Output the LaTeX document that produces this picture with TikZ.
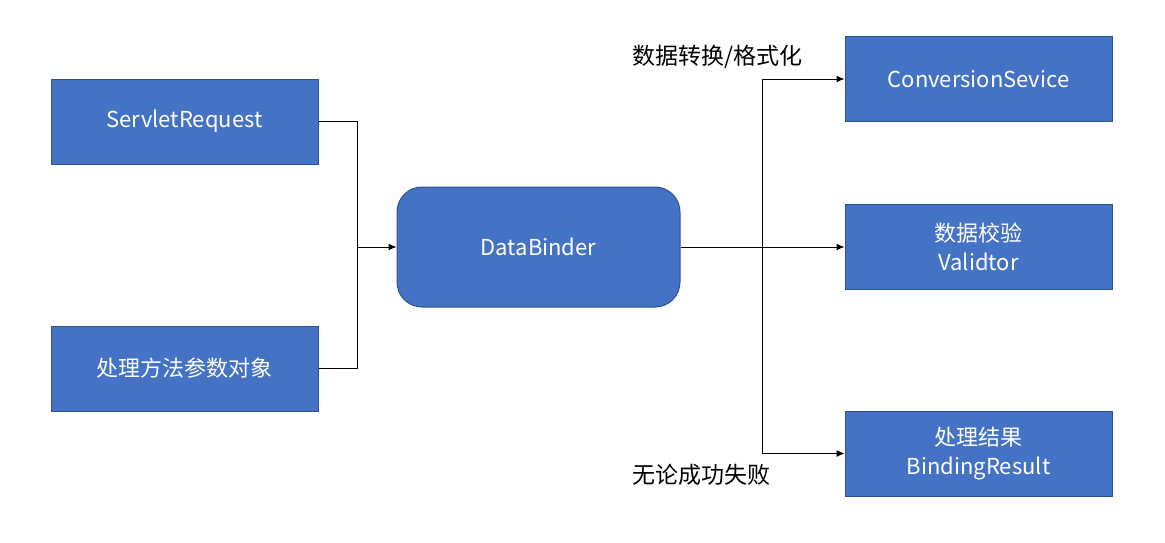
\documentclass[tikz,border=0pt]{standalone}
\usepackage{fontspec}
\setmainfont{Noto Sans CJK SC}
\usepackage{tikz}
\usetikzlibrary{positioning}
\usetikzlibrary{arrows.meta}
\definecolor{boxblue}{HTML}{4472C4}
\definecolor{boxline}{HTML}{2F528F}

\begin{document}
\begin{tikzpicture}[x=1pt, y=-1pt, line width=1pt,
  font=\fontsize{22}{29}\selectfont,
  box/.style = {draw=boxline, fill=boxblue, text=white, minimum width=267pt, minimum height=85pt, align=center, inner sep=0pt},
  binder/.style = {box, rounded corners=25pt, minimum width=283pt, minimum height=120pt},
  note/.style = {anchor=west, inner sep=0pt, font=\fontsize{23}{28}\selectfont},
  arr/.style = {-{Latex[length=8pt,width=7pt]}}]
\useasboundingbox (0,0) rectangle (1165,542);
\node[box] (req) at (184.5,121.5) {ServletRequest};
\node[box] (obj) at (184.5,368.5) {处理方法参数对象};
\node[binder] (db) at (538.5,247) {DataBinder};
\node[box] (conv) at (978.5,79) {ConversionSevice};
\node[box] (valid) at (978.5,247) {数据校验\\Validtor};
\node[box] (res) at (978.5,453.5) {处理结果\\BindingResult};
\coordinate (join) at (357,247);
\coordinate (split) at (762,247);
\draw (req.east) -| (join);
\draw (obj.east) -| (join);
\draw[arr] (join) -- (db.west);
\draw (db.east) -- (split);
\draw[arr] (split) |- (conv.west);
\draw[arr] (split) -- (valid.west);
\draw[arr] (split) |- (res.west);
\node[note] (fmt) at (632,57) {数据转换/格式化};
\node[note] (any) at (632,475) {无论成功失败};
\end{tikzpicture}
\end{document}
